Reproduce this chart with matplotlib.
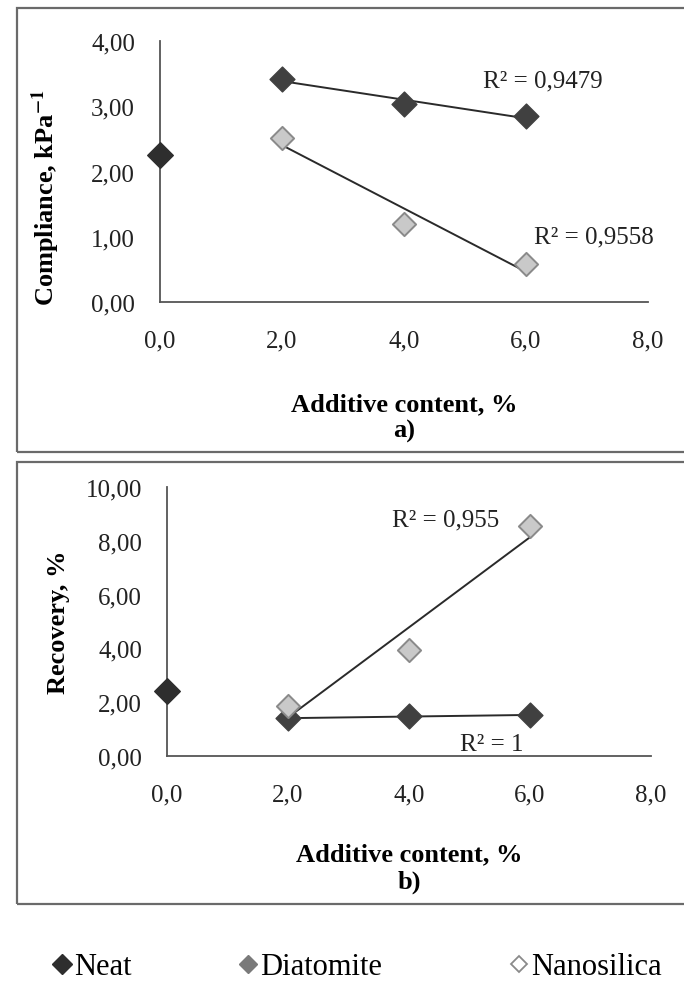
import numpy as np
import matplotlib
matplotlib.use("Agg")
import matplotlib.pyplot as plt
from matplotlib.lines import Line2D
from matplotlib.patches import Rectangle
from matplotlib.ticker import FuncFormatter

plt.rcParams["font.family"] = ["Liberation Serif", "DejaVu Serif"]
plt.rcParams["mathtext.fontset"] = "stix"

# ── Data ─────────────────────────────────────────────────────────────────────
neat_x = [0.0]
add_x = [2.0, 4.0, 6.0]

compl_neat = [2.25]
compl_diat = [3.42, 3.03, 2.85]
compl_nano = [2.52, 1.20, 0.58]
compl_r2 = ["R² = 0,9479", "R² = 0,9558"]

recov_neat = [2.40]
recov_diat = [1.40, 1.48, 1.52]
recov_nano = [1.85, 3.95, 8.55]
recov_r2 = ["R² = 1", "R² = 0,955"]

legend_labels = ["Neat", "Diatomite", "Nanosilica"]

# ── Style ────────────────────────────────────────────────────────────────────
C_NEAT = "#2e2e2e"
C_DIAT = "#404040"
C_DIAT_LEG = "#7a7a7a"
C_NANO_FILL = "#c9c9c9"
C_NANO_EDGE = "#8a8a8a"
C_TREND = "#2a2a2a"
C_AXIS = "#555555"
C_BOX = "#6a6a6a"
C_TXT = "#222222"
FS_TICK = 18
FS_LAB = 19
FS_R2 = 18
FS_LEG = 22

W, H = 684, 987
fig = plt.figure(figsize=(W / 100, H / 100), dpi=100, facecolor="white")


def px(x0, y0, x1, y1):
    """pixel box (top-left origin) -> figure rect"""
    return [x0 / W, 1 - y1 / H, (x1 - x0) / W, (y1 - y0) / H]


def comma(fmt):
    return FuncFormatter(lambda v, _: format(v, fmt).replace(".", ","))


def trend(ax, x, y):
    k, b = np.polyfit(x, y, 1)
    xs = np.array([min(x), max(x)])
    ax.plot(xs, k * xs + b, color=C_TREND, lw=1.4, zorder=2)


def panel(rect, neat, diat, nano, ymax, ystep):
    ax = fig.add_axes(rect)
    trend(ax, add_x, diat)
    trend(ax, add_x, nano)
    ax.scatter(neat_x, neat, marker="D", s=170, color=C_NEAT, zorder=3,
               clip_on=False)
    ax.scatter(add_x, diat, marker="D", s=160, color=C_DIAT, zorder=3)
    ax.scatter(add_x, nano, marker="D", s=140, facecolor=C_NANO_FILL,
               edgecolor=C_NANO_EDGE, linewidth=1.4, zorder=3)
    ax.set_xlim(0, 8)
    ax.set_ylim(0, ymax)
    ax.set_xticks(np.arange(0, 8.1, 2))
    ax.set_yticks(np.arange(0, ymax + 0.01, ystep))
    ax.xaxis.set_major_formatter(comma(".1f"))
    ax.yaxis.set_major_formatter(comma(".2f"))
    ax.tick_params(length=0, labelsize=FS_TICK, colors=C_TXT)
    ax.tick_params(axis="x", pad=20)
    ax.tick_params(axis="y", pad=18)
    for s in ("top", "right"):
        ax.spines[s].set_visible(False)
    for s in ("left", "bottom"):
        ax.spines[s].set_color(C_AXIS)
        ax.spines[s].set_linewidth(1.3)
    ax.set_facecolor("none")
    return ax


# ── a) Compliance ────────────────────────────────────────────────────────────
ax1 = panel(px(160, 42, 648, 303), compl_neat, compl_diat, compl_nano,
            4.0, 1.0)
fig.text(46 / W, 1 - 198 / H, "Compliance, kPa$^{\\mathbf{-1}}$",
         rotation=90, ha="center", va="center", fontsize=FS_LAB,
         fontweight="bold")
ax1.text(5.3, 3.40, compl_r2[0], fontsize=FS_R2, ha="left",
         va="center", color=C_TXT)
ax1.text(6.13, 1.01, compl_r2[1], fontsize=FS_R2, ha="left",
         va="center", color=C_TXT)
fig.text(404 / W, 1 - 405 / H, "Additive content, %", ha="center",
         va="center", fontsize=FS_LAB, fontweight="bold")
fig.text(404 / W, 1 - 431 / H, "a)", ha="center", va="center",
         fontsize=FS_LAB, fontweight="bold")

# ── b) Recovery ──────────────────────────────────────────────────────────────
ax2 = panel(px(167, 488, 651, 757), recov_neat, recov_diat, recov_nano,
            10.0, 2.0)
fig.text(58 / W, 1 - 622 / H, "Recovery, %", rotation=90, ha="center",
         va="center", fontsize=FS_LAB, fontweight="bold")
ax2.text(3.72, 8.80, recov_r2[1], fontsize=FS_R2, ha="left",
         va="center", color=C_TXT)
ax2.text(4.85, 0.45, recov_r2[0], fontsize=FS_R2, ha="left",
         va="center", color=C_TXT)
fig.text(409 / W, 1 - 855 / H, "Additive content, %", ha="center",
         va="center", fontsize=FS_LAB, fontweight="bold")
fig.text(409 / W, 1 - 882 / H, "b)", ha="center", va="center",
         fontsize=FS_LAB, fontweight="bold")

# panel frames (open on the right)
for y0, y1 in [(9, 453), (463, 905)]:
    fig.add_artist(Rectangle((17 / W, 1 - y1 / H), 1.0, (y1 - y0) / H,
                             transform=fig.transFigure, fill=False,
                             edgecolor=C_BOX, linewidth=1.6))

# ── Legend (equal-width entries, one per slot) ───────────────────────────────
handles = [
    Line2D([], [], ls="", marker="D", ms=10, color=C_NEAT),
    Line2D([], [], ls="", marker="D", ms=9, color=C_DIAT_LEG),
    Line2D([], [], ls="", marker="D", ms=8, markerfacecolor="white",
           markeredgecolor=C_NANO_EDGE, markeredgewidth=1.3),
]
slot_x = [54, 240, 511]
for h, lab, x0 in zip(handles, legend_labels, slot_x):
    fig.legend([h], [lab], loc="center left",
               bbox_to_anchor=(x0 / W, 1 - 968 / H), frameon=False,
               fontsize=FS_LEG, handlelength=0.55, handletextpad=0.1,
               borderpad=0, borderaxespad=0)

fig.savefig("out.png", dpi=100, facecolor="white")
